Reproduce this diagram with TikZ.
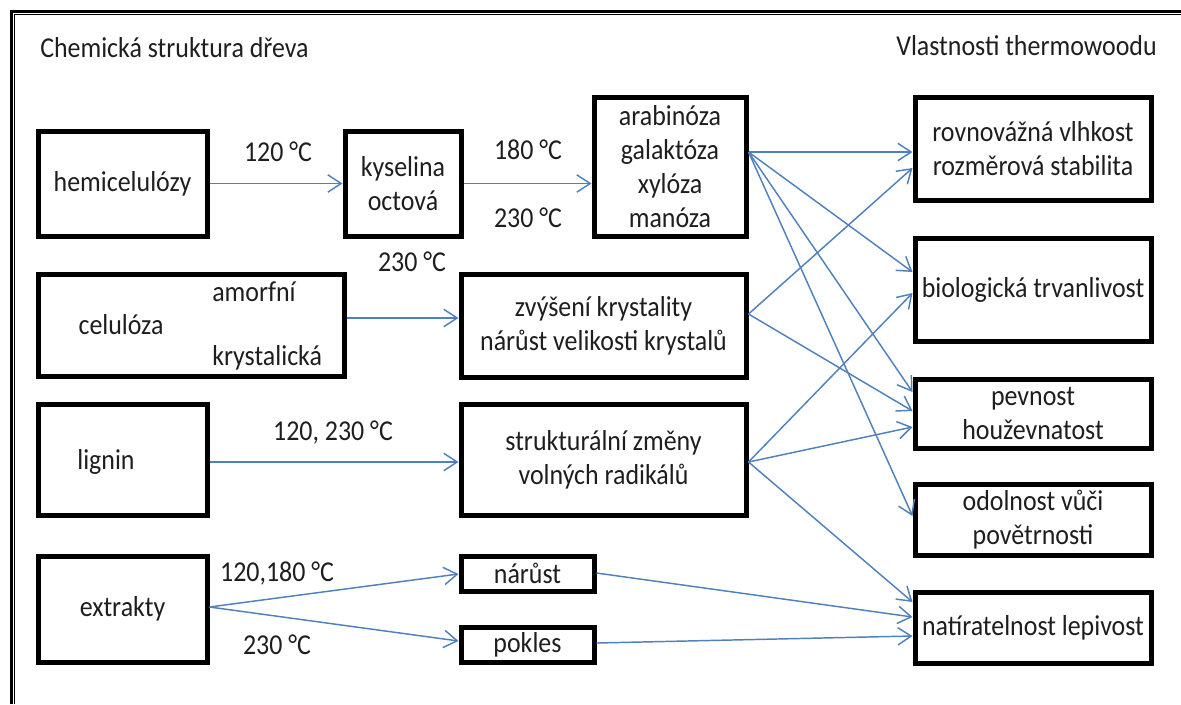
\documentclass[tikz,border=0pt]{standalone}
\usepackage{fontspec}
\setmainfont{Carlito}[FakeStretch=0.9]
\usetikzlibrary{arrows.meta,calc}
\definecolor{arrowblue}{RGB}{79,129,189}
\definecolor{inkgray}{RGB}{30,30,30}
\tikzset{
  fnt/.style={font=\fontsize{21.6}{25.5}\selectfont},
  box/.style={draw=black, line width=3.75pt, inner sep=0pt, align=center, text=inkgray, fnt},
  sz/.style 2 args={minimum width=#1*0.75pt, minimum height=#2*0.75pt},
  txt/.style={inner sep=0pt, align=center, text=inkgray, fnt},
  arr/.style={draw=arrowblue, line width=1.1pt, -{Straight Barb[length=10pt,width=13pt]}},
  frame/.style={draw=black},
}
\begin{document}
\begin{tikzpicture}[x=0.75pt,y=-0.75pt]
\useasboundingbox (0,0) rectangle (1181,704);
% frame
\draw[frame, line width=2pt] (11.3,704) -- (11.3,11.3) -- (1181,11.3);
\draw[frame, line width=1pt] (14.7,704) -- (14.7,14.7) -- (1181,14.7);
% titles
\node[txt, anchor=west] (t1) at (40,48) {Chemická struktura dřeva};
\node[txt, anchor=east] (t2) at (1157,46) {Vlastnosti thermowoodu};
% left column
\node[box, sz={169}{105}] (hemi) at (122.5,183.5) {hemicelulózy};
\node[box, sz={116}{105}] (kys) at (403,183.5) {kyselina\\octová};
\node[box, sz={152}{139}] (arab) at (670,166.5) {arabinóza\\galaktóza\\xylóza\\manóza};
\node[box, sz={306}{102}] (cel) at (191,325) {};
\node[txt] (celt) at (121,325) {celulóza};
\node[txt, anchor=west] (amo) at (212,292) {amorfní};
\node[txt, anchor=west] (kry) at (212,358) {krystalická};
\node[box, sz={285}{103}] (zvy) at (603.5,325.5) {zvýšení krystality\\nárůst velikosti krystalů};
\node[box, sz={169}{111}] (lig) at (122.5,459.5) {};
\node[txt] (ligt) at (106,462) {lignin};
\node[box, sz={285}{111}] (str) at (603.5,459.5) {strukturální změny\\volných radikálů};
\node[box, sz={169}{106}] (ext) at (122.5,609) {extrakty};
\node[box, sz={133}{35}] (nar) at (527.5,573.5) {nárůst};
\node[box, sz={133}{35}] (pok) at (527.5,644.5) {pokles};
% right column
\node[box, sz={236}{103}] (rov) at (1033,148.5) {rovnovážná vlhkost\\rozměrová stabilita};
\node[box, sz={236}{103}] (bio) at (1033,289.5) {biologická trvanlivost};
\node[box, sz={236}{69}] (pev) at (1033,413.5) {pevnost\\houževnatost};
\node[box, sz={236}{71}] (odo) at (1033,519.5) {odolnost vůči\\povětrnosti};
\node[box, sz={236}{71}] (nat) at (1033,627.5) {natíratelnost lepivost};
% labels
\node[txt] (l1) at (278,152) {120 °C};
\node[txt] (l2) at (528,150) {180 °C};
\node[txt] (l3) at (528,218) {230 °C};
\node[txt] (l4) at (412,262) {230 °C};
\node[txt] (l5) at (333,432) {120, 230 °C};
\node[txt] (l6) at (277,573) {120,180 °C};
\node[txt] (l7) at (277,645) {230 °C};
% arrows
\draw[arr] (hemi.east) -- (kys.west);
\draw[arr] (kys.east) -- (kys.east -| arab.west);
\draw[arr] (cel.east |- 0,318) -- (zvy.west |- 0,318);
\draw[arr] (lig.east |- 0,462) -- (str.west |- 0,462);
\draw[arr] (ext.east |- 0,607) -- (nar.west |- 0,574);
\draw[arr] (ext.east |- 0,607) -- (pok.west |- 0,641);
\draw[arr] (nar.east |- 0,573) -- (nat.west |- 0,617);
\draw[arr] (pok.east |- 0,643) -- (nat.west |- 0,636);
\draw[arr] (arab.east |- 0,152) -- (rov.west |- 0,152);
\draw[arr] (arab.east |- 0,152) -- (bio.west |- 0,272);
\draw[arr] (arab.east |- 0,152) -- (pev.west |- 0,392);
\draw[arr] (arab.east |- 0,152) -- (odo.west |- 0,516);
\draw[arr] (zvy.east |- 0,314) -- (rov.west |- 0,168);
\draw[arr] (zvy.east |- 0,314) -- (pev.west |- 0,411);
\draw[arr] (str.east |- 0,462) -- (bio.west |- 0,293);
\draw[arr] (str.east |- 0,462) -- (pev.west |- 0,427);
\draw[arr] (str.east |- 0,462) -- (nat.west |- 0,602);
\end{tikzpicture}
\end{document}
